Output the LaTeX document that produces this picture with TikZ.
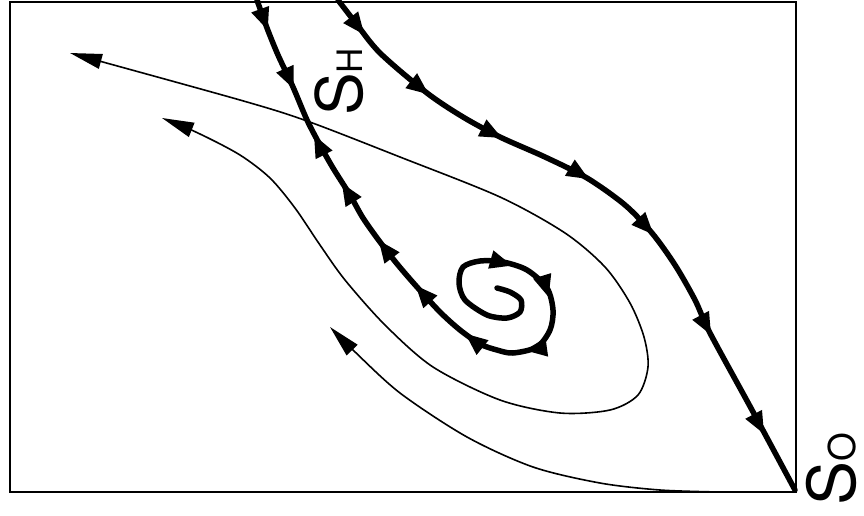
\documentclass[tikz,border=0pt]{standalone}
\usepackage{fontspec}
\setmainfont{TeX Gyre Heros}
\usetikzlibrary{arrows.meta}
\begin{document}
\begin{tikzpicture}[x=1pt,y=-1pt,
  frameline/.style={line width=2.5pt},
  thinflow/.style={line width=1.6pt, >={Triangle[length=32pt,width=15pt]}},
  thickflow/.style={line width=5.5pt, line join=round, line cap=round},
  pics/fhead/.style={code={\fill (2,0) -- (-20,9.5) -- (-20,-9.5) -- cycle;}},
  lbl/.style={rotate=90, anchor=base, inner sep=0pt}
]
\useasboundingbox (0,0) rectangle (864,515);
% frame
\draw[frameline] (10,2) rectangle (796,492);

% thick separatrix through S_H into the spiral
\draw[thickflow] plot[smooth, tension=0.5] coordinates {(257,0) (267,28) (278,55) (293,87) (307,120) (320,145) (333,168) (350,195) (363,218) (380,242) (398,265) (417,287) (440,312) (460,330) (480,344) (497,350) (513,353) (537,347) (550,330) (553,310) (547,288) (527,270) (503,262) (480,261) (463,267) (459,283) (465,300) (487,315) (507,318) (520,312) (521,300) (510,292) (497,288)};

% thick separatrix down to S_O
\draw[thickflow] plot[smooth, tension=0.5] coordinates {(338,0) (355,22) (380,53) (427,93) (463,117) (500,137) (545,157) (587,178) (625,205) (652,233) (675,265) (695,300) (710,333) (752,410) (795,490)};

% arrowheads on the left separatrix
\pic[rotate=-70] at (267,28) {fhead};
\pic[rotate=-66] at (293,87) {fhead};
\pic[rotate=117] at (315,137) {fhead};
\pic[rotate=122] at (343,185) {fhead};
\pic[rotate=127] at (380,242) {fhead};
\pic[rotate=132] at (417,287) {fhead};
\pic[rotate=141] at (467,335) {fhead};
% arrowheads on the spiral
\pic[rotate=-16] at (510,265) {fhead};
\pic[rotate=-73] at (548,295) {fhead};
\pic[rotate=188] at (527,350) {fhead};
% arrowheads on the right separatrix
\pic[rotate=-52] at (363,33) {fhead};
\pic[rotate=-38] at (427,93) {fhead};
\pic[rotate=-27] at (500,137) {fhead};
\pic[rotate=-31] at (587,178) {fhead};
\pic[rotate=-47] at (652,233) {fhead};
\pic[rotate=-62] at (710,333) {fhead};
\pic[rotate=-62] at (763,432) {fhead};

% thin trajectory looping around the spiral
\draw[thinflow,<->] plot[smooth] coordinates {(162,118) (200,134) (240,155) (270,178) (295,208) (320,245) (345,280) (385,325) (433,367) (500,400) (560,413) (610,410) (638,395) (648,367) (644,337) (630,303) (605,267) (565,233) (500,197) (400,157) (307,121) (240,100) (70,53)};

% thin trajectory leaving S_O along the bottom
\draw[thinflow,->] plot[smooth] coordinates {(720,492) (660,490) (600,483) (533,467) (467,437) (400,393) (353,350) (330,327)};

% labels
\node[lbl] (sh) at (362,82) {\fontsize{64}{64}\selectfont S\fontsize{35}{35}\selectfont H};
\node[lbl] (so) at (855,469) {\fontsize{66}{66}\selectfont S\fontsize{37}{37}\selectfont O};
\end{tikzpicture}
\end{document}
